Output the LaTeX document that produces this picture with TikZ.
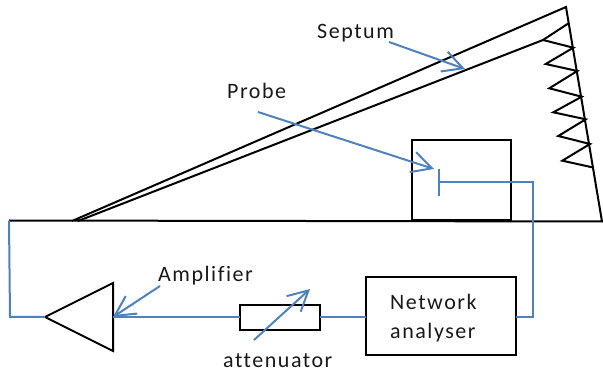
\documentclass[tikz,border=0pt]{standalone}
\usepackage{fontspec}
\setmainfont{Carlito}[LetterSpace=7,Ligatures={NoCommon},RawFeature={-liga;-clig;-dlig}]
\usetikzlibrary{arrows.meta}
\definecolor{wireblue}{HTML}{4F81BD}
\tikzset{
  outline/.style={draw=black,line width=2pt,line join=miter},
  wire/.style={draw=wireblue,line width=2pt},
  pointer/.style={draw=wireblue,line width=2pt,-{Straight Barb[length=20pt,width=21pt,line width=2pt]}},
  blockbox/.style={outline,inner sep=0pt,outer sep=0pt,anchor=north west},
  labeltext/.style={font=\fontsize{22}{29}\selectfont,inner sep=0pt,text=black!90}
}
\begin{document}
\begin{tikzpicture}[x=1pt,y=-1pt]
\useasboundingbox (0,0) rectangle (603,374);
% coordinates
\coordinate (baseL) at (9,220.5);
\coordinate (baseR) at (602,221.5);
\coordinate (apex) at (566,7);
\coordinate (tipA) at (72,221);
\coordinate (tipB) at (78,221);
\coordinate (sepEnd) at (543,40);
\coordinate (inner) at (569,23);
% chamber
\draw[outline] (baseL) -- (baseR) -- (apex) -- (tipA);
\draw[outline] (tipB) -- (sepEnd) -- (inner);
% absorber zigzag
\draw[outline] (sepEnd) -- (573.3,47.7) -- (545.7,64) -- (577.3,71) -- (549.3,88.3) -- (581.7,96.7) -- (553.3,112.3) -- (585.7,119.3) -- (558.3,136) -- (590,144) -- (562.3,160.7) -- (594,167.7);
% boxes
\node[blockbox,minimum width=99pt,minimum height=80pt] (dut) at (411.5,140.5) {};
\node[blockbox,minimum width=149.5pt,minimum height=78.5pt] (na) at (366,276.7) {};
\node[blockbox,minimum width=80pt,minimum height=25pt] (att) at (240,305) {};
\node[labeltext,anchor=west,align=left] (natext) at (390,318) {Network\\analyser};
% amplifier
\coordinate (ampTip) at (45,317);
\coordinate (ampT) at (113,283);
\coordinate (ampB) at (113,351);
\coordinate (ampIn) at (113,317);
\draw[outline] (ampTip) -- (ampT) -- (ampB) -- cycle;
% wiring
\coordinate (probeEnd) at (439,182);
\coordinate (probeTop) at (439,169);
\coordinate (probeBot) at (439,196);
\coordinate (naOut) at (515.7,317);
\coordinate (naIn) at (366,317);
\coordinate (attR) at (320,317);
\coordinate (attL) at (240,317);
\draw[wire] (naOut) -- (533,317) -- (533,182) -- (probeEnd);
\draw[wire] (probeTop) -- (probeBot);
\draw[wire] (naIn) -- (attR);
\draw[wire] (attL) -- (ampIn);
\draw[wire] (ampTip) -- (10,317) -- (baseL);
% labels
\node[labeltext,anchor=west] (lsep) at (317,33) {Septum};
\node[labeltext,anchor=west] (lprobe) at (227,90.5) {Probe};
\node[labeltext,anchor=west] (lamp) at (158,276) {Amplifier};
\node[labeltext,anchor=west] (latt) at (223,361) {attenuator};
% pointers
\coordinate (sepS) at (389,42);
\coordinate (sepT) at (465,69);
\coordinate (prS) at (258,112);
\coordinate (prT) at (434,169);
\coordinate (amS) at (160,286);
\coordinate (atS) at (254,340);
\coordinate (atT) at (310,289);
\draw[pointer] (sepS) -- (sepT);
\draw[pointer] (prS) -- (prT);
\draw[pointer] (amS) -- (ampIn);
\draw[pointer] (atS) -- (atT);
\end{tikzpicture}
\end{document}
